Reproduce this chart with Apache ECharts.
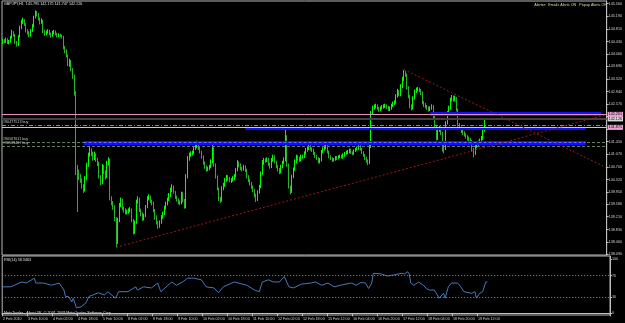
<!DOCTYPE html>
<html><head><meta charset="utf-8">
<script src="https://cdn.jsdelivr.net/npm/echarts@6/dist/echarts.min.js"></script>
<style>html,body{margin:0;padding:0;background:#000;overflow:hidden}#c{width:625px;height:323px}</style>
</head><body><div id="c"></div>
<script>
// ---- data ----
const symbolTitle = 'GBPJPY,H1  141.795 142.175 141.747 142.126';
const alertText = 'Alerter:  Emails Alerts ON   Popup Alerts ON';
const rsiTitle = 'RSI(14) 58.3463';
const copyright = 'MetaTrader - Alpari UK, \u00a9 2001-2009 MetaQuotes Software Corp.';
const timeLabels = ['2 Feb 2010','3 Feb 10:00','4 Feb 02:00','4 Feb 18:00','5 Feb 10:00','8 Feb 02:00','8 Feb 18:00','9 Feb 10:00','10 Feb 02:00','10 Feb 18:00','11 Feb 10:00','12 Feb 02:00','12 Feb 18:00','15 Feb 12:00','16 Feb 04:00','16 Feb 20:00','17 Feb 12:00','18 Feb 04:00','18 Feb 20:00','19 Feb 12:00'];
const priceTicks = [138.09,138.46,138.83,139.21,139.58,139.95,140.32,140.70,141.07,141.45,141.82,142.20,142.57,142.94,143.32,143.69,144.06,144.43,144.81,145.19,145.56];
const rsiTicks = [0,30,70,100];
const rsiLevels = [30,70];
// [open, close, low, high]
const ohlc = [
[144.40,144.46,144.35,144.52],[144.46,144.43,144.38,144.50],[144.43,144.49,144.39,144.55],[144.49,144.40,144.36,144.53],[144.40,144.43,144.35,144.48],
[144.43,144.55,144.40,144.60],[144.55,144.70,144.52,144.78],[144.70,144.64,144.58,144.74],[144.64,144.40,144.36,144.66],[144.40,144.34,144.28,144.45],
[144.34,144.58,144.30,144.62],[144.58,144.85,144.55,144.90],[144.85,145.00,144.80,145.08],[145.00,145.08,144.96,145.14],[145.08,144.95,144.90,145.10],
[144.95,144.76,144.70,144.98],[144.76,144.70,144.64,144.80],[144.70,144.61,144.56,144.74],[144.61,144.75,144.58,144.80],[144.75,144.88,144.72,144.95],
[144.88,145.15,144.85,145.20],[145.15,145.30,145.12,145.36],[145.30,145.25,145.18,145.34],[145.25,145.12,145.06,145.28],[145.12,145.00,144.94,145.15],
[145.00,145.06,144.96,145.12],[145.06,144.73,144.68,145.08],[144.73,144.65,144.60,144.78],[144.65,144.70,144.61,144.76],[144.70,144.74,144.66,144.80],
[144.74,144.66,144.62,144.78],[144.66,144.60,144.55,144.70],[144.60,144.70,144.57,144.75],[144.70,144.73,144.65,144.78],[144.73,144.66,144.62,144.76],
[144.66,144.60,144.55,144.69],[144.60,144.63,144.56,144.68],[144.63,144.61,144.57,144.66],[144.61,144.58,144.52,144.64],[144.58,144.25,144.20,144.60],
[144.25,144.15,144.08,144.30],[144.15,144.02,143.96,144.20],[144.02,143.75,143.70,144.05],[143.75,143.85,143.68,143.92],[143.85,143.60,143.54,143.88],
[143.60,143.40,143.32,143.64],[143.40,142.90,142.82,143.45],[142.90,140.55,140.45,142.95],[140.55,140.50,139.35,140.75],[140.50,140.40,140.30,140.62],
[140.40,140.30,140.22,140.48],[140.30,140.12,140.05,140.35],[140.12,140.00,139.92,140.18],[140.00,140.35,139.96,140.42],[140.35,140.75,140.30,140.82],
[140.75,141.05,140.70,141.12],[141.05,141.20,141.00,141.30],[141.20,141.10,141.02,141.25],[141.10,140.95,140.88,141.15],[140.95,141.05,140.90,141.15],
[141.05,140.90,140.85,141.10],[140.90,140.80,140.72,140.96],[140.80,140.40,140.35,140.85],[140.40,140.22,140.15,140.45],[140.22,140.70,140.18,140.78],
[140.70,140.55,140.48,140.75],[140.55,140.40,140.32,140.60],[140.40,140.80,140.36,140.88],[140.80,140.90,140.74,140.98],[140.90,139.75,139.70,140.94],
[139.75,139.62,139.55,139.82],[139.62,139.50,139.42,139.68],[139.50,139.15,139.08,139.55],[139.15,138.45,138.30,139.20],[138.45,139.10,138.40,139.18],
[139.10,139.55,139.05,139.62],[139.55,139.70,139.50,139.78],[139.70,139.45,139.40,139.75],[139.45,139.40,139.33,139.52],[139.40,139.35,139.28,139.46],
[139.35,139.35,139.28,139.42],[139.35,139.40,139.30,139.46],[139.40,139.42,139.34,139.50],[139.42,139.10,139.05,139.46],[139.10,138.75,138.68,139.14],
[138.75,139.05,138.70,139.10],[139.05,139.65,139.00,139.72],[139.65,139.75,139.60,139.82],[139.75,139.40,139.35,139.78],[139.40,139.30,139.22,139.45],
[139.30,139.15,139.08,139.34],[139.15,139.25,139.10,139.30],[139.25,139.50,139.20,139.56],[139.50,139.75,139.46,139.82],[139.75,139.80,139.70,139.88],
[139.80,139.68,139.62,139.84],[139.68,139.62,139.55,139.72],[139.62,139.40,139.34,139.66],[139.40,139.20,139.12,139.44],[139.20,139.05,138.98,139.25],
[139.05,138.92,138.85,139.08],[138.92,139.05,138.88,139.10],[139.05,139.20,139.00,139.26],[139.20,139.30,139.15,139.36],[139.30,139.48,139.26,139.54],
[139.48,139.60,139.42,139.66],[139.60,139.72,139.55,139.78],[139.72,139.85,139.68,139.92],[139.85,140.00,139.80,140.08],[140.00,140.10,139.95,140.18],
[140.10,139.95,139.90,140.14],[139.95,139.80,139.74,139.98],[139.80,139.72,139.66,139.84],[139.72,139.65,139.58,139.76],[139.65,139.62,139.55,139.70],
[139.62,139.90,139.58,139.96],[139.90,139.70,139.64,139.94],[139.70,139.50,139.45,139.74],[139.50,140.40,139.46,140.48],[140.40,140.95,140.35,141.02],
[140.95,141.05,140.88,141.12],[141.05,141.10,141.00,141.16],[141.10,141.12,141.04,141.18],[141.12,141.25,141.08,141.32],[141.25,141.30,141.20,141.36],
[141.30,141.40,141.25,141.48],[141.40,141.25,141.20,141.44],[141.25,141.15,141.10,141.30],[141.15,141.00,140.94,141.18],[141.00,140.82,140.76,141.04],
[140.82,140.70,140.64,140.86],[140.70,140.62,140.55,140.74],[140.62,140.65,140.57,140.70],[140.65,140.70,140.60,140.76],[140.70,140.85,140.66,140.92],
[140.85,141.25,140.80,141.42],[141.25,140.75,140.70,141.28],[140.75,140.40,140.35,140.80],[140.40,140.05,140.00,140.44],[140.05,139.75,139.68,140.08],
[139.75,139.70,139.62,139.80],[139.70,140.05,139.66,140.12],[140.05,140.15,140.00,140.22],[140.15,140.30,140.10,140.36],[140.30,140.40,140.25,140.46],
[140.40,140.35,140.28,140.45],[140.35,140.30,140.24,140.40],[140.30,140.30,140.22,140.36],[140.30,140.36,140.26,140.42],[140.36,140.42,140.30,140.48],
[140.42,140.60,140.38,140.66],[140.60,140.82,140.56,140.90],[140.82,140.75,140.68,140.86],[140.75,140.65,140.60,140.80],[140.65,140.62,140.56,140.70],
[140.62,140.70,140.58,140.76],[140.70,140.60,140.54,140.74],[140.60,140.40,140.35,140.64],[140.40,140.30,140.24,140.45],[140.30,140.20,140.14,140.34],
[140.20,140.10,140.04,140.25],[140.10,140.00,139.94,140.14],[140.00,139.85,139.78,140.04],[139.85,139.72,139.65,139.90],[139.72,139.95,139.68,140.00],
[139.95,140.10,139.90,140.16],[140.10,140.50,140.06,140.56],[140.50,140.82,140.46,140.90],[140.82,140.90,140.76,140.96],[140.90,140.88,140.82,140.95],
[140.88,140.92,140.84,140.98],[140.92,140.78,140.72,140.96],[140.78,140.70,140.64,140.82],[140.70,140.90,140.66,140.96],[140.90,141.00,140.85,141.06],
[141.00,140.85,140.80,141.04],[140.85,140.72,140.66,140.88],[140.72,140.62,140.56,140.76],[140.62,140.55,140.48,140.66],[140.55,140.70,140.50,140.76],
[140.70,140.82,140.66,140.88],[140.82,140.90,140.78,140.98],[140.90,141.60,140.86,141.80],[141.60,140.75,140.70,141.64],[140.75,140.10,140.05,140.80],
[140.10,139.95,139.88,140.14],[139.95,140.40,139.92,140.46],[140.40,140.62,140.36,140.68],[140.62,140.85,140.58,140.92],[140.85,141.00,140.80,141.06],
[141.00,140.95,140.88,141.04],[140.95,140.90,140.84,141.00],[140.90,141.00,140.86,141.06],[141.00,141.00,140.94,141.06],[141.00,141.10,140.96,141.16],
[141.10,141.20,141.06,141.26],[141.20,141.25,141.15,141.30],[141.25,141.30,141.20,141.36],[141.30,141.25,141.18,141.34],[141.25,141.20,141.14,141.28],
[141.20,141.10,141.05,141.24],[141.10,141.02,140.96,141.14],[141.02,140.95,140.90,141.06],[140.95,140.85,140.80,140.98],[140.85,140.90,140.80,140.96],
[140.90,141.15,140.86,141.20],[141.15,141.22,141.10,141.28],[141.22,141.28,141.18,141.34],[141.28,141.30,141.22,141.36],[141.30,141.15,141.10,141.34],
[141.15,141.00,140.95,141.18],[141.00,140.95,140.90,141.04],[140.95,140.90,140.84,140.98],[140.90,140.92,140.86,140.96],[140.92,140.98,140.88,141.02],
[140.98,140.95,140.90,141.02],[140.95,141.00,140.92,141.04],[141.00,141.02,140.96,141.06],[141.02,140.98,140.94,141.06],[140.98,141.05,140.94,141.10],
[141.05,141.10,141.00,141.14],[141.10,141.12,141.06,141.18],[141.12,141.15,141.08,141.20],[141.15,141.20,141.10,141.24],[141.20,141.12,141.08,141.24],
[141.12,141.10,141.04,141.16],[141.10,141.18,141.06,141.22],[141.18,141.22,141.14,141.26],[141.22,141.25,141.18,141.30],[141.25,141.30,141.20,141.34],
[141.30,141.22,141.18,141.34],[141.22,141.12,141.08,141.26],[141.12,141.05,141.00,141.16],[141.05,140.95,140.90,141.08],[140.95,140.88,140.82,141.00],
[140.88,140.82,140.75,140.92],[140.82,141.30,140.78,141.36],[141.30,142.30,141.26,142.36],[142.30,142.45,142.25,142.52],[142.45,142.50,142.40,142.56],
[142.50,142.52,142.44,142.58],[142.52,142.45,142.40,142.56],[142.45,142.40,142.34,142.48],[142.40,142.45,142.36,142.50],[142.45,142.48,142.40,142.54],
[142.48,142.50,142.43,142.56],[142.50,142.52,142.45,142.58],[142.52,142.48,142.42,142.56],[142.48,142.42,142.36,142.52],[142.42,142.45,142.36,142.50],
[142.45,142.52,142.40,142.58],[142.52,142.58,142.48,142.64],[142.58,142.62,142.54,142.68],[142.62,142.80,142.58,142.86],[142.80,142.95,142.76,143.02],
[142.95,142.85,142.80,142.98],[142.85,143.10,142.80,143.16],[143.10,143.30,143.05,143.38],[143.30,143.50,143.25,143.58],[143.50,143.45,143.38,143.56],
[143.45,143.05,143.00,143.48],[143.05,142.80,142.74,143.10],[142.80,142.50,142.44,142.84],[142.50,142.45,142.38,142.56],[142.45,142.75,142.40,142.80],
[142.75,142.95,142.70,143.00],[142.95,143.00,142.90,143.06],[143.00,143.02,142.95,143.08],[143.02,142.98,142.92,143.06],[142.98,142.90,142.84,143.02],
[142.90,142.62,142.56,142.94],[142.62,142.55,142.48,142.66],[142.55,142.50,142.44,142.60],[142.50,142.45,142.40,142.54],[142.45,142.40,142.34,142.50],
[142.40,142.45,142.36,142.50],[142.45,142.50,142.40,142.56],[142.50,142.20,142.15,142.54],[142.20,141.90,141.84,142.24],[141.90,141.55,141.48,141.95],
[141.55,141.80,141.50,141.86],[141.80,141.85,141.74,141.92],[141.85,141.70,141.64,141.90],[141.70,141.30,141.15,141.74],[141.30,141.25,141.10,141.36],
[141.25,142.00,141.20,142.06],[142.00,142.30,141.96,142.36],[142.30,142.45,142.25,142.52],[142.45,142.70,142.40,142.76],[142.70,142.78,142.64,142.84],
[142.78,142.70,142.64,142.82],[142.70,142.75,142.65,142.82],[142.75,142.40,142.35,142.78],[142.40,141.95,141.90,142.44],[141.95,141.85,141.80,142.00],
[141.85,141.75,141.70,141.90],[141.75,141.70,141.64,141.80],[141.70,141.65,141.60,141.76],[141.65,141.60,141.54,141.70],[141.60,141.55,141.48,141.64],
[141.55,141.52,141.46,141.60],[141.52,141.45,141.40,141.56],[141.45,141.20,141.15,141.50],[141.20,141.10,140.98,141.26],[141.10,141.30,141.05,141.36],
[141.30,141.38,141.25,141.44],[141.38,141.42,141.32,141.48],[141.42,141.48,141.36,141.54],[141.48,141.55,141.42,141.62],[141.55,141.80,141.50,141.86],
[141.795,142.126,141.747,142.13]
];
const rsiIdx = [0,5,12,15,20,21,26,31,36,39,40,42,44,45,47,50,53,55,61,65,67,68,72,74,80,85,86,90,95,99,101,108,111,115,118,122,127,130,135,138,141,148,156,161,164,166,170,173,177,180,181,183,186,191,197,200,204,208,212,216,223,226,229,232,234,236,237,242,246,250,255,256,257,259,260,261,263,266,269,271,273,276,278,279,282,283,285,287,291,293,295,300,302,303,305,307,309,310];
const rsiVal = [49,49,58,56,65,56,56,52,56,43,31,31,21,28,10,12,19,31,38,34,40,38,28,40,40,49,43,49,47,56,40,58,52,58,65,65,62,49,47,38,49,58,52,43,40,58,62,58,58,68,71,49,47,54,56,58,52,56,49,52,56,52,57,56,46,56,74,73,69,71,74,77,73,77,73,56,52,58,52,46,43,43,34,28,37,28,49,56,56,49,40,37,40,28,37,40,58,58.35];
// horizontal levels
const pinkLevel = 142.261, bidLevel = 142.126, dashLevel = 141.935, lavLevel = 141.875;
const buyLevelA = 141.43, buyLevelB = 141.32;
const buyLabels = ['#90477513 buy','#90567611 buy','#90583467 buy'];
// blue zones: [startBar, endBar, price]
const zoneUpper = [275, 385, 142.29];
const zoneMid = [156, 375, 141.86];
const zoneLow = [52, 375, 141.43];
// trend lines: [bar, price, bar, price]
const trendUp = [73, 138.30, 388, 142.25];
const trendDown = [258, 143.60, 388, 140.68];
const nCat = 389;

// ---- chart ----
const FONT = 'Liberation Sans';
const FS = 3.7;
const cats = Array.from({length: nCat}, (_, i) => String(i));
const chart = echarts.init(document.getElementById('c'), null, {renderer: 'canvas'});
const lbl = (c) => ({show: true, position: 'end', distance: 1, fontSize: FS, fontFamily: FONT, color: '#000', backgroundColor: c, padding: [1, 1, 0, 1]});
const startLbl = (t) => ({show: true, position: 'insideStartTop', distance: 1, fontSize: FS, fontFamily: FONT, color: '#c8c8c8', formatter: t});
const labelEvery = (i) => i % 16 === 0 && i / 16 < timeLabels.length;
const seg = (z, style) => [{coord: [String(z[0]), z[2]], lineStyle: style}, {coord: [String(z[1]), z[2]]}];

chart.setOption({
  backgroundColor: '#000',
  animation: false,
  grid: [
    {left: 2, right: 15, top: 1, height: 254, show: true, borderColor: '#b8b8b8', borderWidth: 1, backgroundColor: '#000'},
    {left: 2, right: 15, top: 256, height: 59, show: true, borderColor: '#b8b8b8', borderWidth: 1, backgroundColor: '#000'}
  ],
  xAxis: [
    {type: 'category', gridIndex: 0, data: cats, boundaryGap: true, axisLine: {show: false}, axisTick: {show: false}, axisLabel: {show: false}},
    {type: 'category', gridIndex: 1, data: cats, boundaryGap: true,
     axisLine: {show: true, lineStyle: {color: '#c0c0c0', width: 1}},
     axisTick: {show: true, interval: labelEvery, length: 3, lineStyle: {color: '#c0c0c0'}},
     axisLabel: {show: true, interval: labelEvery, formatter: (v, i) => timeLabels[i / 16], align: 'left', margin: 2,
                 fontSize: FS, fontFamily: FONT, color: '#d0d0d0'}}
  ],
  yAxis: [
    {type: 'value', gridIndex: 0, position: 'right', min: 138.07, max: 145.64, scale: true,
     splitLine: {show: false}, axisLine: {show: true, lineStyle: {color: '#c0c0c0'}},
     axisTick: {show: true, length: 2, customValues: priceTicks, lineStyle: {color: '#c0c0c0'}},
     axisLabel: {customValues: priceTicks, formatter: (v) => v.toFixed(3), margin: 2, fontSize: FS, fontFamily: FONT, color: '#d0d0d0'}},
    {type: 'value', gridIndex: 1, position: 'right', min: -3.15, max: 106.1,
     splitLine: {show: false}, axisLine: {show: true, lineStyle: {color: '#c0c0c0'}},
     axisTick: {show: true, length: 2, customValues: rsiTicks, lineStyle: {color: '#c0c0c0'}},
     axisLabel: {customValues: rsiTicks, margin: 2, fontSize: FS, fontFamily: FONT, color: '#d0d0d0'}}
  ],
  series: [
    {type: 'candlestick', xAxisIndex: 0, yAxisIndex: 0, data: ohlc, barWidth: 1.2,
     itemStyle: {color: '#00ff00', color0: '#28b428', borderColor: '#00ff00', borderColor0: '#28b428', borderWidth: 1},
     markLine: {silent: true, symbol: ['none', 'none'], animation: false, precision: 3,
       data: [
         {yAxis: buyLevelA, lineStyle: {color: '#5f7f5f', type: [3, 2], width: 1}, label: startLbl(buyLabels[1])},
         {yAxis: buyLevelB, lineStyle: {color: '#5f7f5f', type: [3, 2], width: 1}, label: startLbl(buyLabels[2])},
         {yAxis: dashLevel, lineStyle: {color: '#8a8a8a', type: [4, 2, 1, 2], width: 1}, label: startLbl(buyLabels[0])},
         {yAxis: bidLevel, lineStyle: {color: '#404040', type: 'solid', width: 2}, label: Object.assign(lbl('#d8d8d8'), {formatter: bidLevel.toFixed(3)})},
         seg(zoneLow, {color: '#1010ff', width: 4, type: 'solid'}),
         seg(zoneLow, {color: '#7070ff', width: 1, type: [3, 2]}),
         seg(zoneMid, {color: '#1010ff', width: 3, type: 'solid'}),
         seg(zoneUpper, {color: '#1010ff', width: 4, type: 'solid'}),
         {yAxis: pinkLevel, lineStyle: {color: '#e890b8', type: 'solid', width: 1}, label: Object.assign(lbl('#e8a0d0'), {formatter: pinkLevel.toFixed(3)})},
         {yAxis: lavLevel, lineStyle: {color: '#e0b8f0', type: 'solid', width: 1}, label: Object.assign(lbl('#e8a0d0'), {formatter: lavLevel.toFixed(3)})},
         [{coord: [String(trendUp[0]), trendUp[1]], lineStyle: {color: '#a01818', type: [2, 2], width: 1}}, {coord: [String(trendUp[2]), trendUp[3]]}],
         [{coord: [String(trendDown[0]), trendDown[1]], lineStyle: {color: '#a01818', type: [2, 2], width: 1}}, {coord: [String(trendDown[2]), trendDown[3]]}]
       ]}
    },
    {type: 'line', xAxisIndex: 1, yAxisIndex: 1, data: rsiIdx.map((x, i) => [x, rsiVal[i]]), symbol: 'none',
     lineStyle: {color: '#4a78b8', width: 1},
     markLine: {silent: true, symbol: ['none', 'none'], label: {show: false},
       data: rsiLevels.map(v => ({yAxis: v, lineStyle: {color: '#909090', type: [1, 2], width: 1}}))}
    }
  ],
  graphic: [
    {type: 'text', left: 4, top: 2, style: {text: symbolTitle, fill: '#e0e0e0', font: FS + 'px ' + FONT}},
    {type: 'text', right: 18, top: 3, style: {text: alertText, fill: '#e0dca0', font: FS + 'px ' + FONT}},
    {type: 'text', left: 4, top: 258, style: {text: rsiTitle, fill: '#e0e0e0', font: FS + 'px ' + FONT}},
    {type: 'text', left: 4, top: 311, style: {text: copyright, fill: '#e0e0e0', font: FS + 'px ' + FONT}}
  ]
});
</script></body></html>
